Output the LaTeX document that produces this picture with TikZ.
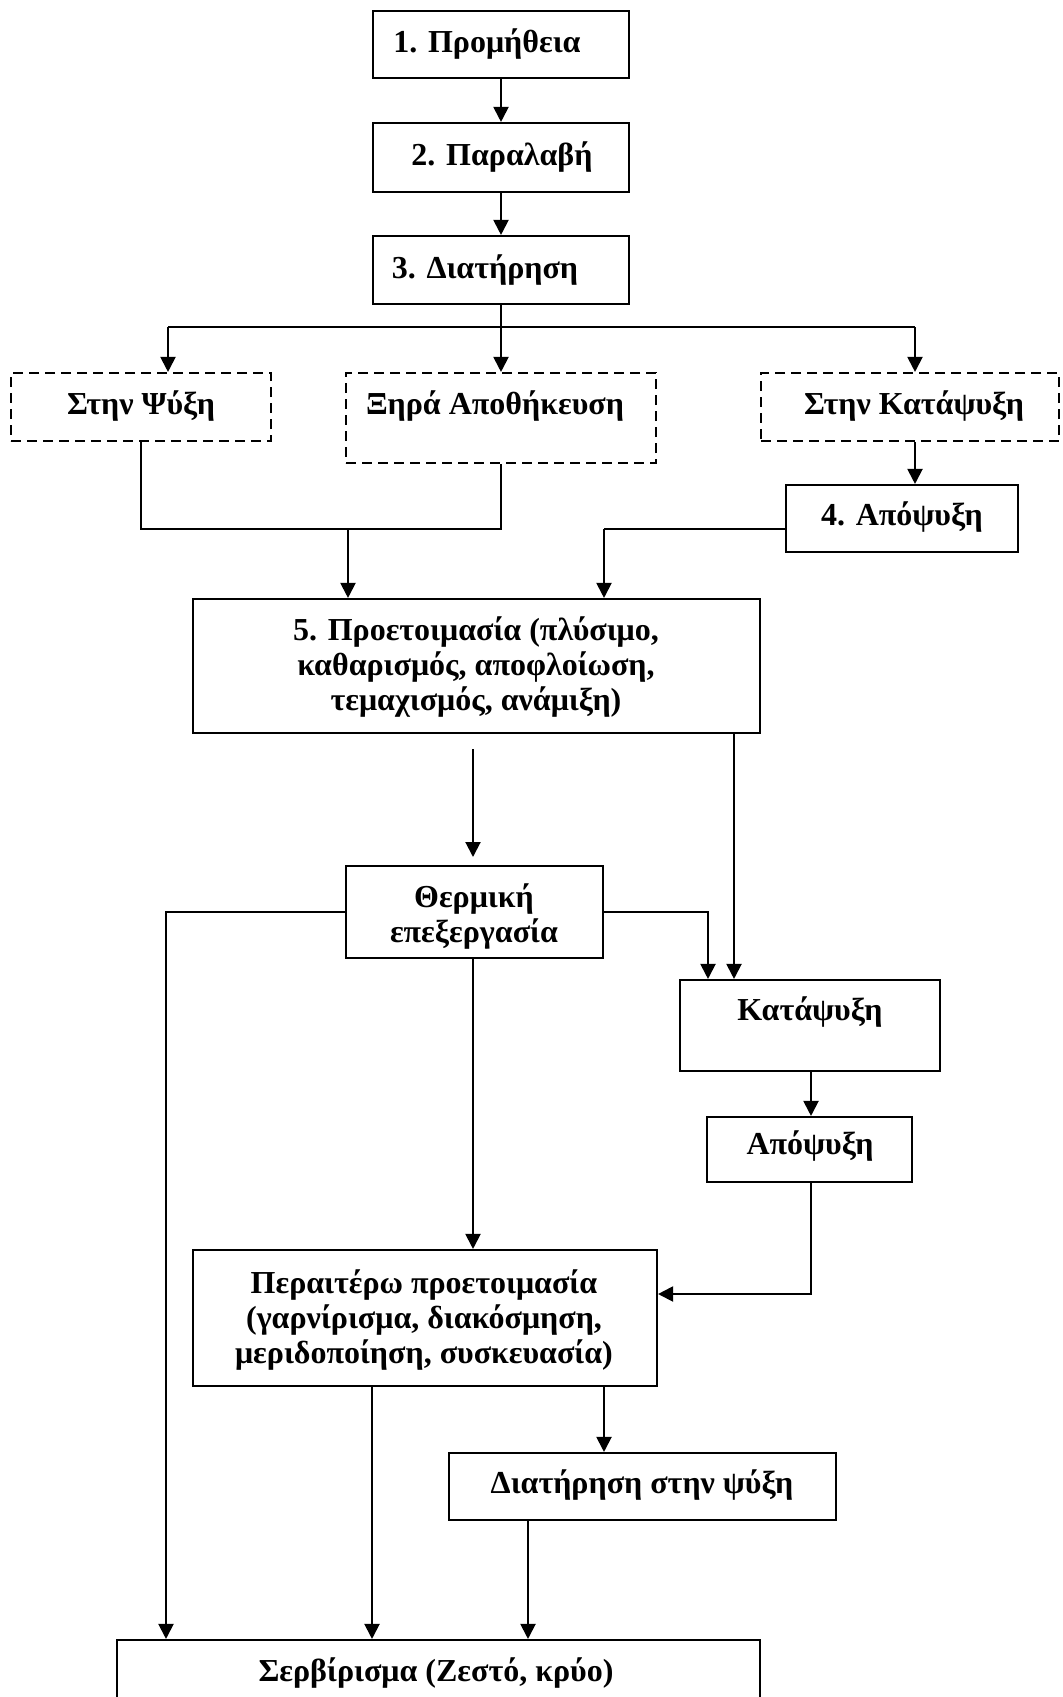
\documentclass[tikz,border=0pt]{standalone}
\usepackage{fontspec}
\setmainfont{Liberation Serif}
\usetikzlibrary{arrows.meta,fit}
\begin{document}
\begin{tikzpicture}[x=0.5pt,y=-0.5pt,
  box/.style={draw, line width=1.05pt, inner sep=0pt},
  dbox/.style={box, dash pattern=on 5pt off 3pt},
  txt/.style={font=\fontsize{16}{17.5}\selectfont\bfseries, align=center, inner sep=0pt},
  arr/.style={line width=1pt, -{Triangle[length=7.5pt,width=7.5pt]}},
  ln/.style={line width=1pt}]
\useasboundingbox[fill=white] (0,0) rectangle (1062,1697);
% boxes
\node[box, fit={(373,11) (629,78)}] (b1) {};
\node[box, fit={(373,123) (629,192)}] (b2) {};
\node[box, fit={(373,236) (629,304)}] (b3) {};
\node[dbox, fit={(11,373) (271,441)}] (psy) {};
\node[dbox, fit={(346,373) (656,463)}] (xira) {};
\node[dbox, fit={(761,373) (1059,441)}] (katd) {};
\node[box, fit={(786,485) (1018,552)}] (b4) {};
\node[box, fit={(193,599) (760,733)}] (b5) {};
\node[box, fit={(346,866) (603,958)}] (therm) {};
\node[box, fit={(680,980) (940,1071)}] (katb) {};
\node[box, fit={(707,1117) (912,1182)}] (apop) {};
\node[box, fit={(193,1250) (657,1386)}] (per) {};
\node[box, fit={(449,1453) (836,1520)}] (diat) {};
\node[box, fit={(117,1640) (760,1730)}] (serv) {};
% texts
\node[txt] (t1) at (487,44) {1. Προμήθεια};
\node[txt] (t2) at (502,157) {2. Παραλαβή};
\node[txt] (t3) at (485,270) {3. Διατήρηση};
\node[txt] (tpsy) at (141,406) {Στην Ψύξη};
\node[txt] (txira) at (495,406) {Ξηρά Αποθήκευση};
\node[txt] (tkatd) at (914,406) {Στην Κατάψυξη};
\node[txt] (t4) at (902,517) {4. Απόψυξη};
\node[txt] (t5) at (476,667) {5. Προετοιμασία (πλύσιμο,\\καθαρισμός, αποφλοίωση,\\τεμαχισμός, ανάμιξη)};
\node[txt] (ttherm) at (474,917) {Θερμική\\επεξεργασία};
\node[txt] (tkatb) at (810,1012) {Κατάψυξη};
\node[txt] (tapop) at (810,1146) {Απόψυξη};
\node[txt] (tper) at (424,1320) {Περαιτέρω προετοιμασία\\(γαρνίρισμα, διακόσμηση,\\μεριδοποίηση, συσκευασία)};
\node[txt] (tdiat) at (642,1485) {Διατήρηση στην ψύξη};
\node[txt] (tserv) at (436,1673) {Σερβίρισμα (Ζεστό, κρύο)};
% coordinates
\coordinate (br) at (501,327);
\coordinate (brL) at (168,327);
\coordinate (brR) at (915,327);
\coordinate (jL) at (141,529);
\coordinate (jA) at (348,529);
\coordinate (k4) at (604,529);
\coordinate (a5s) at (473,749);
\coordinate (a5e) at (473,857);
\coordinate (thL) at (166,912);
\coordinate (thR) at (708,912);
\coordinate (apC) at (811,1294);
% connectors
\draw[arr] (b1.south) -- (b2.north);
\draw[arr] (b2.south) -- (b3.north);
\draw[ln] (b3.south) -- (br);
\draw[ln] (brL) -- (brR);
\draw[arr] (brL) -- (brL |- psy.north);
\draw[arr] (br) -- (br |- xira.north);
\draw[arr] (brR) -- (brR |- katd.north);
\draw[arr] (katd.south -| brR) -- (brR |- b4.north);
\draw[ln] (psy.south) -- (jL) -- (xira.south |- jL) -- (xira.south);
\draw[arr] (jA) -- (jA |- b5.north);
\draw[ln] (b4.west |- k4) -- (k4);
\draw[arr] (k4) -- (k4 |- b5.north);
\draw[arr] (a5s) -- (a5e);
\draw[arr] (b5.south -| 734,0) -- (734,0 |- katb.north);
\draw[arr] (therm.west |- thL) -- (thL) -- (thL |- serv.north);
\draw[arr] (therm.east |- thR) -- (thR) -- (thR |- katb.north);
\draw[arr] (katb.south -| apC) -- (apC |- apop.north);
\draw[arr] (apop.south -| apC) -- (apC) -- (per.east |- apC);
\draw[arr] (therm.south -| a5s) -- (a5s |- per.north);
\draw[arr] (per.south -| 372,0) -- (372,0 |- serv.north);
\draw[arr] (per.south -| k4) -- (k4 |- diat.north);
\draw[arr] (diat.south -| 528,0) -- (528,0 |- serv.north);
\end{tikzpicture}
\end{document}
